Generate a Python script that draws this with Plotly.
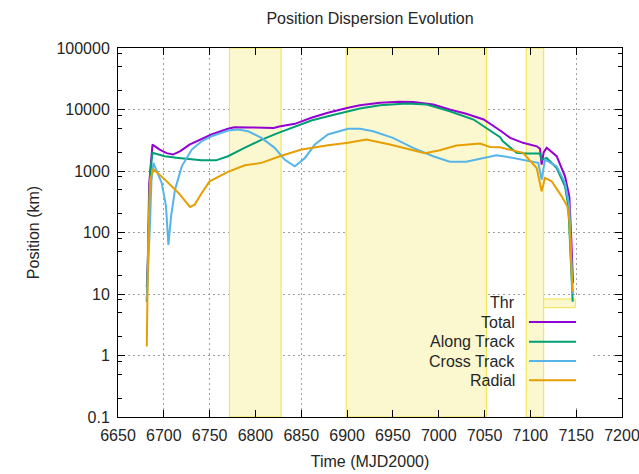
import plotly.graph_objects as go

# ---------------- data ----------------
total_t = [6681.4, 6682.5, 6684, 6685.5, 6687.6, 6695.5, 6703, 6710, 6718, 6728, 6739, 6752, 6770, 6777,
           6795, 6810, 6820, 6826, 6843, 6861, 6879, 6901, 6914, 6936, 6957, 6972, 6994, 7012, 7030, 7049,
           7056, 7067, 7078, 7092, 7107, 7110.5, 7112.3, 7114.5, 7117.8, 7128.7, 7137.8, 7142.5, 7145, 7146.5]
total_v = [13, 30, 600, 1300, 2690, 2230, 1950, 1850, 2100, 2690, 3240, 3920, 4850, 5160,
           5100, 5060, 5000, 5300, 5850, 7330, 8840, 10660, 11760, 12860, 13350, 13300, 12050, 10000, 8510, 6870,
           5920, 4550, 3460, 2870, 2520, 2300, 1270, 2000, 2380, 1740, 820, 387, 60, 15]

along_t = [6681.4, 6683, 6685, 6687.6, 6701, 6716, 6741, 6757, 6770, 6788, 6807, 6825, 6843, 6861, 6879,
           6901, 6914, 6936, 6965, 6987, 7012, 7038, 7052, 7067, 7070, 7085, 7096, 7110.5, 7112.3, 7117.8,
           7128.7, 7137.8, 7141.4, 7144, 7146.2]
along_v = [7.5, 100, 900, 1970, 1740, 1630, 1490, 1490, 1740, 2380, 3240, 4170, 5300, 6620, 7780,
           9180, 10380, 11760, 12530, 12050, 9380, 6870, 5040, 3540, 3050, 1970, 1920, 1920, 1530, 1630,
           1120, 564, 266, 50, 7.5]

cross_t = [6681.4, 6683, 6685, 6686.5, 6688.6, 6697.7, 6702.4, 6705, 6707.9, 6712.2, 6719.6, 6730.5, 6741.4,
           6752, 6770, 6781, 6792, 6806.6, 6821, 6832, 6843, 6854, 6864.8, 6879, 6901, 6914, 6928.5, 6950,
           6972, 6994, 7012, 7030, 7048.6, 7063, 7074, 7092, 7108.6, 7112.3, 7116, 7128.7, 7137.8, 7142.5,
           7145, 7146.3]
cross_v = [8, 25, 150, 700, 1360, 640, 266, 63, 183, 498, 1190, 2230, 3050,
           3670, 4550, 4720, 4430, 3460, 2380, 1520, 1190, 1630, 2690, 3920, 4850, 4850, 4430, 3460,
           2380, 1740, 1410, 1410, 1630, 1800, 1700, 1530, 1360, 725, 1530, 1190, 640, 266,
           40, 10]

radial_t = [6681.4, 6683, 6685, 6688.6, 6701.3, 6716, 6728.6, 6733.7, 6741.4, 6750, 6770, 6788.4, 6806.6,
            6826.6, 6850.3, 6879.3, 6901, 6921, 6946.7, 6965, 6985, 7000, 7019.5, 7045, 7056, 7067, 7092,
            7106.9, 7112.3, 7116, 7123.2, 7134.2, 7140.3, 7142.5, 7144.5, 7146]
radial_v = [1.4, 80, 700, 1070, 724, 440, 260, 284, 440, 679, 966, 1240, 1355,
            1740, 2230, 2620, 2870, 3240, 2690, 2300, 1950, 2150, 2590, 2790, 2460, 2430, 1970,
            1120, 467, 773, 680, 387, 266, 161, 40, 11]

thr_start = [6771.6, 6899, 7095.5]
thr_end = [6828, 7052, 7114.5]

series_names = ["Total", "Along Track", "Cross Track", "Radial"]
x_range = [6650, 7200]
y_log_range = [-1, 5]
x_ticks = list(range(6650, 7201, 50))
y_ticks = [0.1, 1, 10, 100, 1000, 10000, 100000]
y_tick_labels = ["0.1", "1", "10", "100", "1000", "10000", "100000"]
y_minor = [m * 10.0 ** e for e in range(-1, 5) for m in (2, 5, 8)]

# ---------------- styles ----------------
colors = ["#9400D3", "#009E73", "#56B4E9", "#E69F00"]
thr_fill = "#FBF8D0"
thr_line = "#F0E442"
FONT = "Liberation Sans, Arial, sans-serif"
TXT = "#262626"
W, H = 639, 474
L, R, T, B = 118, 17, 48, 57
PW, PH = W - L - R, H - T - B


def px(x):
    return (x - L) / PW


def py(y):
    return (H - B - y) / PH


def dx(x):  # pixel -> x data
    return x_range[0] + px(x) * (x_range[1] - x_range[0])


def dy(y):  # pixel -> y data value on the log axis
    return 10 ** (y_log_range[0] + py(y) * (y_log_range[1] - y_log_range[0]))


fig = go.Figure()
for name, t, v, c in zip(series_names, [total_t, along_t, cross_t, radial_t],
                         [total_v, along_v, cross_v, radial_v], colors):
    fig.add_trace(go.Scatter(x=t, y=v, mode="lines", name=name,
                             line=dict(color=c, width=2), showlegend=False))

y_lo, y_hi = 10 ** y_log_range[0], 10 ** y_log_range[1]
shapes = []
# opaque key background (hides grid lines)
shapes.append(dict(type="rect", xref="x", yref="y", x0=dx(428), x1=dx(590),
                   y0=dy(405), y1=dy(297), fillcolor="white", line=dict(width=0), layer="between"))
for a, b in zip(thr_start, thr_end):
    shapes.append(dict(type="rect", xref="x", yref="y", x0=a, x1=b, y0=y_lo, y1=y_hi,
                       fillcolor=thr_fill, line=dict(color=thr_line, width=1), layer="between"))
shapes.append(dict(type="rect", xref="x", yref="y", x0=dx(543.7), x1=dx(575.3),
                   y0=dy(307.7), y1=dy(299), fillcolor=thr_fill,
                   line=dict(color=thr_line, width=1), layer="between"))

# key
key_y = [302, 322, 341.7, 361, 380.3]
key_labels = ["Thr"] + series_names
annotations = []
for lab, yy in zip(key_labels, key_y):
    annotations.append(dict(text=lab, xref="paper", yref="paper", x=px(517), y=py(yy),
                            xanchor="right", yanchor="middle", showarrow=False,
                            font=dict(family=FONT, size=16, color=TXT)))
for c, yy in zip(colors, key_y[1:]):
    shapes.append(dict(type="line", xref="paper", yref="paper", x0=px(529), x1=px(576),
                       y0=py(yy), y1=py(yy), line=dict(color=c, width=2), layer="above"))

axis_common = dict(showline=True, linecolor="black", linewidth=1, mirror="ticks",
                   ticks="inside", ticklen=7, tickcolor="black", tickwidth=1,
                   showgrid=True, gridcolor="#A0A0A0", gridwidth=1, griddash="2px,3px",
                   zeroline=False, ticklabeloverflow="allow", automargin=False,
                   tickfont=dict(family=FONT, size=16, color=TXT))

fig.update_layout(
    width=W, height=H, margin=dict(l=L, r=R, t=T, b=B),
    paper_bgcolor="white", plot_bgcolor="white",
    title=dict(text="Position Dispersion Evolution", x=(L + PW / 2) / W, xanchor="center",
               y=1 - 18 / H, yanchor="middle", font=dict(family=FONT, size=16, color=TXT)),
    xaxis=dict(range=x_range, tickvals=x_ticks, ticklabelstandoff=4,
               title=dict(text="Time (MJD2000)", standoff=12, font=dict(family=FONT, size=16, color=TXT)),
               **axis_common),
    yaxis=dict(type="log", range=y_log_range, tickvals=y_ticks, ticktext=y_tick_labels,
               ticklabelstandoff=4,
               minor=dict(tickmode="array", tickvals=y_minor, ticks="inside", ticklen=4,
                          tickcolor="black", showgrid=False),
               title=dict(text="Position (km)", standoff=12, font=dict(family=FONT, size=16, color=TXT)),
               **axis_common),
    shapes=shapes, annotations=annotations, showlegend=False,
)

fig.write_html("out.html")
